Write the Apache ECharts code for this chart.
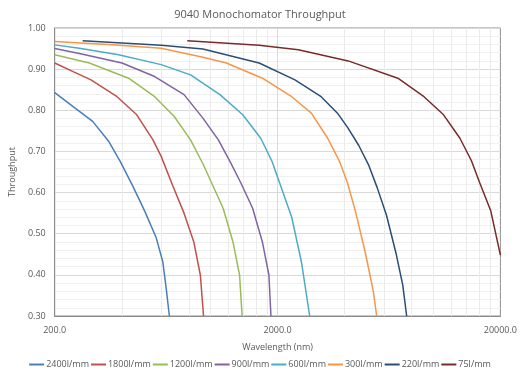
<!DOCTYPE html>
<html>
<head>
<meta charset="utf-8">
<script src="https://cdn.jsdelivr.net/npm/echarts@6/dist/echarts.min.js"></script>
<style>
  html, body { margin: 0; padding: 0; background: #fff; }
  #main { width: 520px; height: 377px; }
</style>
</head>
<body>
<div id="main"></div>
<script>
// 数据：波长 (nm) 与通过率
var names = ['2400l/mm', '1800l/mm', '1200l/mm', '900l/mm', '600l/mm', '300l/mm', '220l/mm', '75l/mm'];
var colors = ['#4a7ebb', '#c0504d', '#9bbb59', '#8064a2', '#4bacc6', '#f79646', '#2c4d75', '#772c2a'];

var wl2400 = [200, 242, 296, 350, 394, 446, 507, 571, 611, 632, 654];
var tp2400 = [0.843, 0.809, 0.773, 0.724, 0.675, 0.618, 0.555, 0.490, 0.432, 0.370, 0.300];
var wl1800 = [200, 242, 291, 381, 467, 552, 601, 676, 761, 842, 901, 931];
var tp1800 = [0.915, 0.894, 0.874, 0.833, 0.789, 0.728, 0.688, 0.618, 0.550, 0.480, 0.399, 0.300];
var wl1200 = [200, 286, 429, 562, 688, 814, 925, 1140, 1262, 1351, 1387];
var tp1200 = [0.935, 0.915, 0.878, 0.833, 0.785, 0.728, 0.670, 0.562, 0.480, 0.399, 0.300];
var wl900 = [200, 258, 401, 562, 761, 925, 1085, 1233, 1373, 1546, 1710, 1830, 1868];
var tp900 = [0.950, 0.938, 0.915, 0.882, 0.838, 0.781, 0.728, 0.672, 0.622, 0.562, 0.480, 0.399, 0.300];
var wl600 = [200, 258, 387, 601, 814, 1103, 1396, 1681, 1892, 2024, 2316, 2563, 2788];
var tp600 = [0.959, 0.951, 0.935, 0.911, 0.886, 0.838, 0.789, 0.732, 0.675, 0.630, 0.540, 0.430, 0.300];
var wl300 = [200, 362, 601, 925, 1179, 1710, 2316, 2836, 3358, 3800, 4112, 4472, 4948, 5382, 5570];
var tp300 = [0.967, 0.959, 0.951, 0.929, 0.915, 0.878, 0.833, 0.793, 0.732, 0.675, 0.625, 0.555, 0.455, 0.360, 0.300];
var wl220 = [267, 601, 925, 1654, 2394, 3138, 3716, 4130, 4624, 5116, 5600, 6166, 6820, 7294, 7594];
var tp220 = [0.969, 0.958, 0.949, 0.915, 0.874, 0.833, 0.793, 0.758, 0.715, 0.668, 0.612, 0.545, 0.450, 0.375, 0.300];
var wl75 = [787, 1654, 2480, 4150, 6932, 9082, 11120, 13166, 14812, 16120, 18120, 20000];
var tp75 = [0.969, 0.958, 0.947, 0.920, 0.878, 0.833, 0.789, 0.732, 0.678, 0.625, 0.555, 0.448];

var xLabels = [200, 2000, 20000];
var minorX = [400, 600, 800, 1000, 1200, 1400, 1600, 1800,
              4000, 6000, 8000, 10000, 12000, 14000, 16000, 18000];

var wls = [wl2400, wl1800, wl1200, wl900, wl600, wl300, wl220, wl75];
var tps = [tp2400, tp1800, tp1200, tp900, tp600, tp300, tp220, tp75];

var myChart = echarts.init(document.getElementById('main'));

var series = names.map(function (n, k) {
    return {
        name: n,
        type: 'line',
        symbol: 'none',
        z: 3,
        lineStyle: { width: 1.5, color: colors[k] },
        itemStyle: { color: colors[k] },
        data: wls[k].map(function (w, i) { return [w, tps[k][i]]; })
    };
});

// 竖向网格线（对数轴的次网格），放在曲线下面
series.push({
    name: 'grid',
    type: 'line',
    data: [],
    z: 1,
    silent: true,
    markLine: {
        silent: true,
        z: 1,
        symbol: 'none',
        label: { show: false },
        animation: false,
        data: minorX.map(function (v) {
            return { xAxis: v, lineStyle: { color: '#ebebeb', width: 1, type: 'solid' } };
        }).concat([{ xAxis: 2000, lineStyle: { color: '#d9d9d9', width: 1, type: 'solid' } }])
    }
});

var option = {
    animation: false,
    textStyle: { fontFamily: 'Open Sans, sans-serif', color: '#595959' },
    title: {
        text: '9040 Monochomator Throughput',
        left: 'center',
        top: 4,
        textStyle: { fontSize: 11, fontWeight: 'normal', color: '#595959' }
    },
    grid: {
        left: 48, right: 17, top: 28, bottom: 61,
        show: true, borderColor: '#8c8c8c', borderWidth: 1
    },
    legend: {
        data: names,
        bottom: 3,
        left: 'center',
        width: 510,
        icon: 'rect',
        itemWidth: 15,
        itemHeight: 2,
        itemGap: 2,
        textStyle: { fontSize: 9, color: '#595959', padding: [0, 0, 0, -3] }
    },
    xAxis: {
        type: 'log',
        logBase: 10,
        min: 200,
        max: 20000,
        name: 'Wavelength (nm)',
        nameLocation: 'middle',
        nameGap: 27,
        nameTextStyle: { fontSize: 9, color: '#595959' },
        axisLine: { show: true, lineStyle: { color: '#8c8c8c' } },
        axisTick: { show: false },
        splitLine: { show: false },
        axisLabel: {
            customValues: xLabels,
            fontSize: 9,
            color: '#595959',
            margin: 10,
            formatter: function (v) { return Number(v).toFixed(1); }
        }
    },
    yAxis: {
        type: 'value',
        min: 0.3,
        max: 1.0,
        interval: 0.1,
        name: 'Throughput',
        nameLocation: 'middle',
        nameGap: 34,
        nameTextStyle: { fontSize: 9, color: '#595959' },
        axisLine: { show: true, lineStyle: { color: '#8c8c8c' } },
        axisTick: { show: false },
        axisLabel: {
            fontSize: 9,
            color: '#595959',
            margin: 9,
            formatter: function (v) { return v.toFixed(2); }
        },
        splitLine: { lineStyle: { color: '#d9d9d9' } },
        minorTick: { show: false, splitNumber: 5 },
        minorSplitLine: { show: true, lineStyle: { color: '#f0f0f0' } }
    },
    series: series
};

myChart.setOption(option);
</script>
</body>
</html>
